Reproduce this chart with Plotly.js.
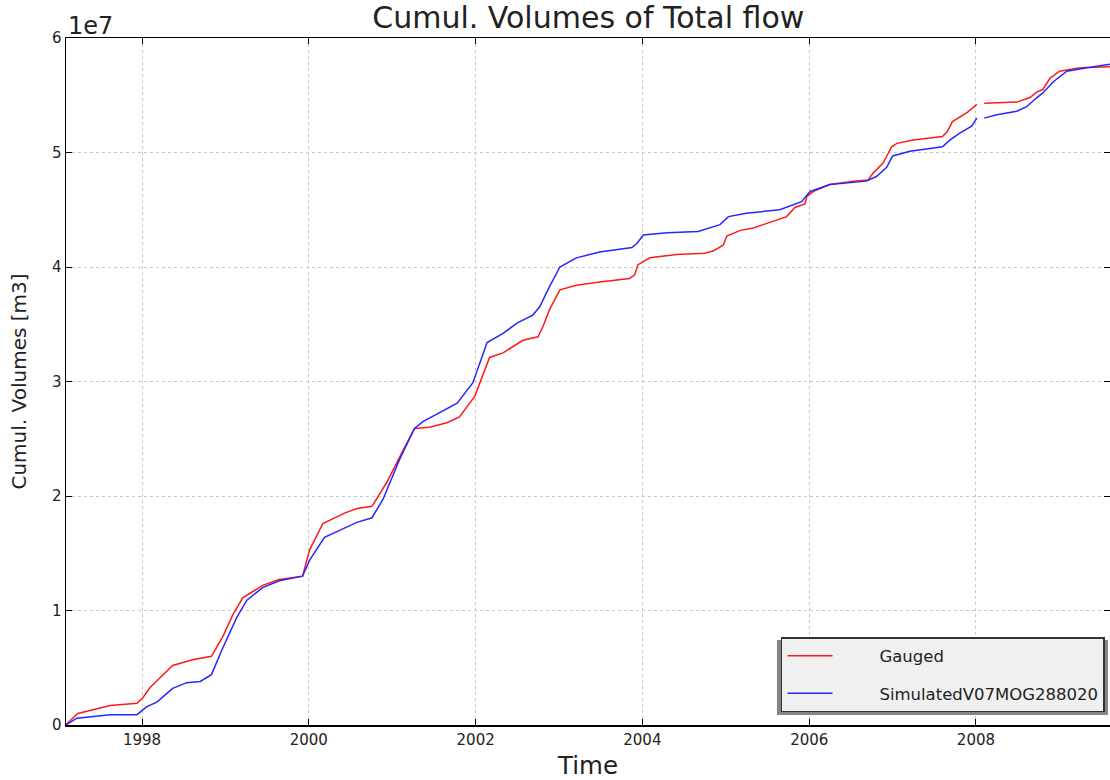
<!DOCTYPE html>
<html>
<head>
<meta charset="utf-8">
<script src="https://cdn.plot.ly/plotly-3.0.1.min.js"></script>
<style>html,body{margin:0;padding:0;background:#fff;}#chart{width:1110px;height:780px;}</style>
</head>
<body>
<div id="chart"></div>
<script>
// Gauged cumulative volume (units of 1e7 m3)
const gaugedDates = ["1997-02-01","1997-03-25","1997-08-15","1997-12-10","1998-01-05","1998-02-06","1998-03-20","1998-05-15","1998-08-10","1998-11-01","1998-12-20","1999-02-02","1999-03-18","1999-06-13","1999-08-25","1999-12-05","2000-01-05","2000-03-03","2000-06-06","2000-07-30","2000-10-04","2000-12-08","2001-02-02","2001-04-08","2001-06-13","2001-08-28","2001-10-22","2001-12-28","2002-03-03","2002-05-01","2002-07-27","2002-10-01","2002-10-23","2002-11-21","2003-01-05","2003-03-18","2003-06-28","2003-11-06","2003-11-28","2003-12-13","2004-02-03","2004-05-30","2004-10-01","2004-11-06","2004-12-20","2005-01-05","2005-03-05","2005-05-01","2005-06-13","2005-09-24","2005-10-30","2005-12-13","2005-12-22","2006-01-20","2006-04-01","2006-07-13","2006-09-16","2006-10-08","2006-11-21","2006-12-28","2007-01-20","2007-04-01","2007-08-07","2007-08-28","2007-09-20","2007-11-24","2008-01-05","2008-01-20","2008-02-06","2008-06-28","2008-08-25","2008-09-24","2008-10-20","2008-11-21","2009-01-01","2009-04-01","2009-08-10"];
const gaugedValues = [0,0.10,0.17,0.19,0.24,0.33,0.41,0.52,0.57,0.60,0.77,0.96,1.11,1.22,1.27,1.30,1.53,1.76,1.85,1.89,1.91,2.12,2.34,2.59,2.60,2.64,2.69,2.87,3.21,3.25,3.36,3.39,3.48,3.63,3.80,3.84,3.87,3.90,3.93,4.02,4.08,4.11,4.12,4.14,4.19,4.27,4.32,4.34,4.37,4.44,4.52,4.55,4.62,4.66,4.72,4.75,4.76,4.82,4.91,5.05,5.08,5.11,5.14,5.18,5.27,5.35,5.42,null,5.43,5.44,5.48,5.53,5.55,5.65,5.71,5.74,5.75];

// Simulated cumulative volume (units of 1e7 m3)
const simDates = ["1997-02-01","1997-03-22","1997-08-15","1997-12-10","1998-01-22","1998-03-07","1998-05-15","1998-07-16","1998-09-13","1998-11-01","1998-12-20","1999-02-20","1999-04-05","1999-06-13","1999-08-25","1999-12-05","2000-01-05","2000-03-10","2000-05-15","2000-07-30","2000-10-04","2000-11-21","2001-02-02","2001-04-08","2001-05-15","2001-08-10","2001-10-12","2001-12-20","2002-02-20","2002-05-01","2002-07-01","2002-09-08","2002-10-08","2002-11-21","2003-01-05","2003-03-18","2003-06-28","2003-11-17","2003-12-10","2004-01-05","2004-04-20","2004-09-01","2004-12-06","2005-01-12","2005-04-01","2005-08-25","2005-10-08","2005-11-28","2006-01-05","2006-04-01","2006-09-08","2006-10-22","2006-12-06","2007-01-01","2007-03-18","2007-08-07","2007-09-10","2007-10-22","2007-12-13","2008-01-05","2008-01-20","2008-02-06","2008-04-01","2008-06-28","2008-08-10","2008-09-24","2008-10-20","2008-12-06","2009-02-02","2009-05-01","2009-08-10"];
const simValues = [0,0.06,0.09,0.09,0.16,0.20,0.32,0.37,0.38,0.44,0.67,0.94,1.09,1.20,1.26,1.30,1.44,1.64,1.70,1.77,1.81,1.97,2.32,2.59,2.65,2.74,2.81,2.99,3.34,3.42,3.51,3.58,3.65,3.83,4.00,4.08,4.13,4.17,4.21,4.28,4.30,4.31,4.37,4.44,4.47,4.50,4.53,4.57,4.66,4.72,4.75,4.79,4.87,4.97,5.01,5.05,5.11,5.17,5.23,5.30,null,5.30,5.33,5.36,5.40,5.48,5.52,5.62,5.71,5.74,5.77];

const seriesNames = ["Gauged", "SimulatedV07MOG288020"];
const yTickVals = [0,1,2,3,4,5,6];
const yTickText = ["0","1","2","3","4","5","6"];
const xTickVals = ["1998-01-01","2000-01-01","2002-01-01","2004-01-01","2006-01-01","2008-01-01"];
const xTickText = ["1998","2000","2002","2004","2006","2008"];

const scale = 1e7;
const toM3 = a => a.map(v => v === null ? null : v * scale);
const pad = "\u00a0".repeat(8);

const traces = [
  {x: gaugedDates, y: toM3(gaugedValues), name: pad + seriesNames[0], type: "scatter", mode: "lines",
   line: {color: "#ff1a1a", width: 1.5}, legendgroup: "g1", connectgaps: false},
  {x: simDates, y: toM3(simValues), name: pad + seriesNames[1], type: "scatter", mode: "lines",
   line: {color: "#2626ff", width: 1.5}, legendgroup: "g2", connectgaps: false}
];

const font = "DejaVu Sans, sans-serif";
const layout = {
  width: 1110, height: 780,
  margin: {l: 66, r: 0, t: 38, b: 55},
  paper_bgcolor: "#ffffff", plot_bgcolor: "#ffffff",
  font: {family: font, color: "#222", size: 15},
  title: {text: "Cumul. Volumes of Total flow", font: {family: font, size: 30, color: "#222"},
          x: 0.53, xanchor: "center", y: 0.977, yanchor: "middle"},
  xaxis: {
    type: "date", range: ["1997-02-02", "2009-08-10"],
    tickvals: xTickVals, ticktext: xTickText,
    ticks: "inside", ticklen: 6, tickcolor: "#000", tickwidth: 1,
    showline: true, linecolor: "#000", linewidth: 1.5, mirror: "allticks",
    showgrid: true, gridcolor: "#c8c8c8", griddash: "dot", gridwidth: 1,
    zeroline: false, tickfont: {family: font, size: 15, color: "#222"},
    title: {text: "Time", font: {family: font, size: 24.5, color: "#222"}, standoff: 10}
  },
  yaxis: {
    range: [0, 6e7],
    tickvals: yTickVals.map(v => v * scale), ticktext: yTickText,
    ticks: "inside", ticklen: 6, tickcolor: "#000", tickwidth: 1,
    showline: true, linecolor: "#000", linewidth: 1.5, mirror: "allticks",
    showgrid: true, gridcolor: "#c8c8c8", griddash: "dot", gridwidth: 1,
    zeroline: false, tickfont: {family: font, size: 15, color: "#222"},
    title: {text: "Cumul. Volumes [m3]", font: {family: font, size: 20, color: "#222"}, standoff: 20}
  },
  legend: {
    x: 0.9952, y: 0.0189, xanchor: "right", yanchor: "bottom",
    bgcolor: "#f0f0f0", bordercolor: "#333", borderwidth: 1.5,
    font: {family: font, size: 16.5, color: "#222"},
    tracegroupgap: 13, itemwidth: 45
  },
  shapes: [
    {type: "rect", xref: "paper", yref: "paper", x0: 0.681, x1: 0.998, y0: 0.0146, y1: 0.1237,
     fillcolor: "#666", line: {width: 0}, layer: "above", opacity: 0.8}
  ],
  annotations: [
    {text: "1e7", xref: "paper", yref: "paper", x: 0, y: 1, xanchor: "left", yanchor: "bottom",
     showarrow: false, font: {family: font, size: 24, color: "#222"}, yshift: -4}
  ],
  showlegend: true
};

Plotly.newPlot("chart", traces, layout, {displayModeBar: false, staticPlot: true});
</script>
</body>
</html>
